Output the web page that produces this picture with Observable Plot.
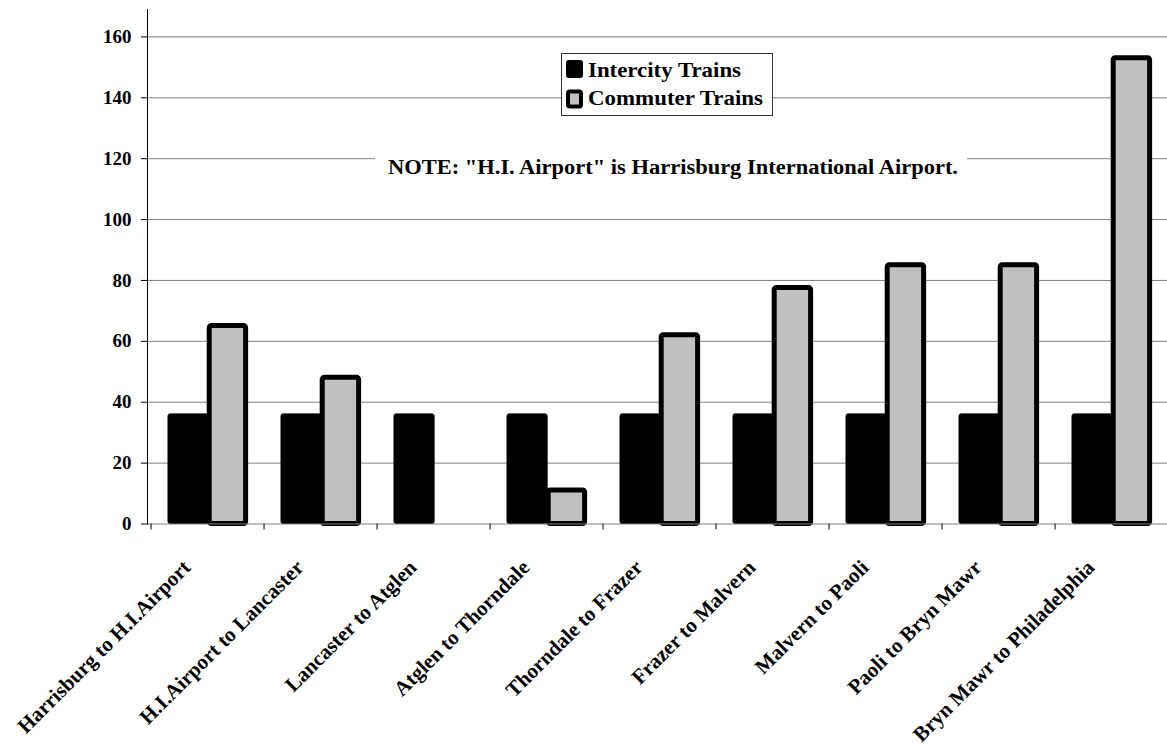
<!DOCTYPE html>
<html><head><meta charset="utf-8">
<script src="https://cdn.jsdelivr.net/npm/d3@7"></script>
<script src="https://cdn.jsdelivr.net/npm/@observablehq/plot@0.6"></script>
<style>
html,body{margin:0;padding:0;background:#fff;overflow:hidden;}
#chart svg{display:block;}
#chart text{font-family:"Liberation Serif","Times New Roman",serif;font-weight:bold;fill:#000;}
</style></head><body><div id="chart"></div>
<script>
const categories = [
  "Harrisburg to H.I.Airport",
  "H.I.Airport to Lancaster",
  "Lancaster to Atglen",
  "Atglen to Thorndale",
  "Thorndale to Frazer",
  "Frazer to Malvern",
  "Malvern to Paoli",
  "Paoli to Bryn Mawr",
  "Bryn Mawr to Philadelphia"
];
const intercity = [36, 36, 36, 36, 36, 36, 36, 36, 36];
const commuter  = [65, 48, null, 11, 62, 77.5, 85, 85, 153];
const yTicks = [0, 20, 40, 60, 80, 100, 120, 140, 160];
const seriesNames = ["Intercity Trains", "Commuter Trains"];
const noteText = "NOTE: \"H.I. Airport\" is Harrisburg International Airport.";

const interData = categories.map((c, i) => ({category: c, series: seriesNames[0], value: intercity[i]}));
const commData = categories.map((c, i) => ({category: c, series: seriesNames[1], value: commuter[i]}))
  .filter(d => d.value != null);

const x0 = 147, x1 = 1172;
const bw = (x1 - x0) / categories.length;

const plot = Plot.plot({
  width: 1167,
  height: 748,
  marginLeft: 147,
  marginRight: 0,
  marginTop: 9,
  marginBottom: 224.5,
  x: {domain: categories, range: [x0, x1], padding: 0, axis: null},
  y: {domain: [0, 169], range: [523.5, 9], axis: null, label: null},
  marks: [
    Plot.ruleY(yTicks.filter(d => d > 0), {stroke: "#808080", strokeWidth: 1}),
    Plot.barY(interData, {x: "category", y: "value", fill: "#000", stroke: "#000", strokeWidth: 1,
      insetLeft: 17, insetRight: bw - 58, rx: 2}),
    Plot.barY(commData, {x: "category", y: "value", fill: "#c0c0c0", stroke: "#000", strokeWidth: 5,
      strokeLinejoin: "round", insetLeft: 58.2, insetRight: bw - 95.5, rx: 2}),
    Plot.ruleY([0], {stroke: "#808080", strokeWidth: 1.2}),
    Plot.ruleX(categories, {x: d => d, y1: 0, y2: 0, insetBottom: -6, dx: -bw / 2, stroke: "#000"}),
    Plot.axisY({ticks: yTicks, tickSize: 6, tickPadding: 10, fontSize: 19, label: null, stroke: "#000"}),
    Plot.frame({anchor: "left", stroke: "#000"}),
    Plot.text(categories, {x: d => d, y: 0, dy: 40, dx: -21, rotate: -45, textAnchor: "end",
      lineAnchor: "middle", fontSize: 21})
  ]
});

const svg = d3.select(plot);
// Note
const ng = svg.append("g").attr("text-anchor", "start");
ng.append("rect").attr("x", 375).attr("y", 148).attr("width", 592).attr("height", 36).attr("fill", "#fff");
ng.append("text").attr("x", 388).attr("y", 174).attr("font-size", 20).attr("text-anchor", "start")
  .attr("textLength", 570).attr("lengthAdjust", "spacingAndGlyphs").text(noteText);

// Legend
const lg = svg.append("g").attr("text-anchor", "start");
lg.append("rect").attr("x", 561.5).attr("y", 53.5).attr("width", 211).attr("height", 62)
  .attr("fill", "#fff").attr("stroke", "#333").attr("stroke-width", 1);
lg.append("rect").attr("x", 566).attr("y", 60).attr("width", 17).attr("height", 18).attr("rx", 3).attr("fill", "#000");
lg.append("rect").attr("x", 568).attr("y", 91.5).attr("width", 13).attr("height", 15).attr("rx", 2)
  .attr("fill", "#c0c0c0").attr("stroke", "#000").attr("stroke-width", 4);
lg.append("text").attr("x", 588).attr("y", 77).attr("font-size", 22).attr("text-anchor", "start")
  .attr("textLength", 153).attr("lengthAdjust", "spacingAndGlyphs").text(seriesNames[0]);
lg.append("text").attr("x", 588).attr("y", 105).attr("font-size", 22).attr("text-anchor", "start")
  .attr("textLength", 175).attr("lengthAdjust", "spacingAndGlyphs").text(seriesNames[1]);

document.getElementById("chart").appendChild(plot);
</script>
</body></html>
